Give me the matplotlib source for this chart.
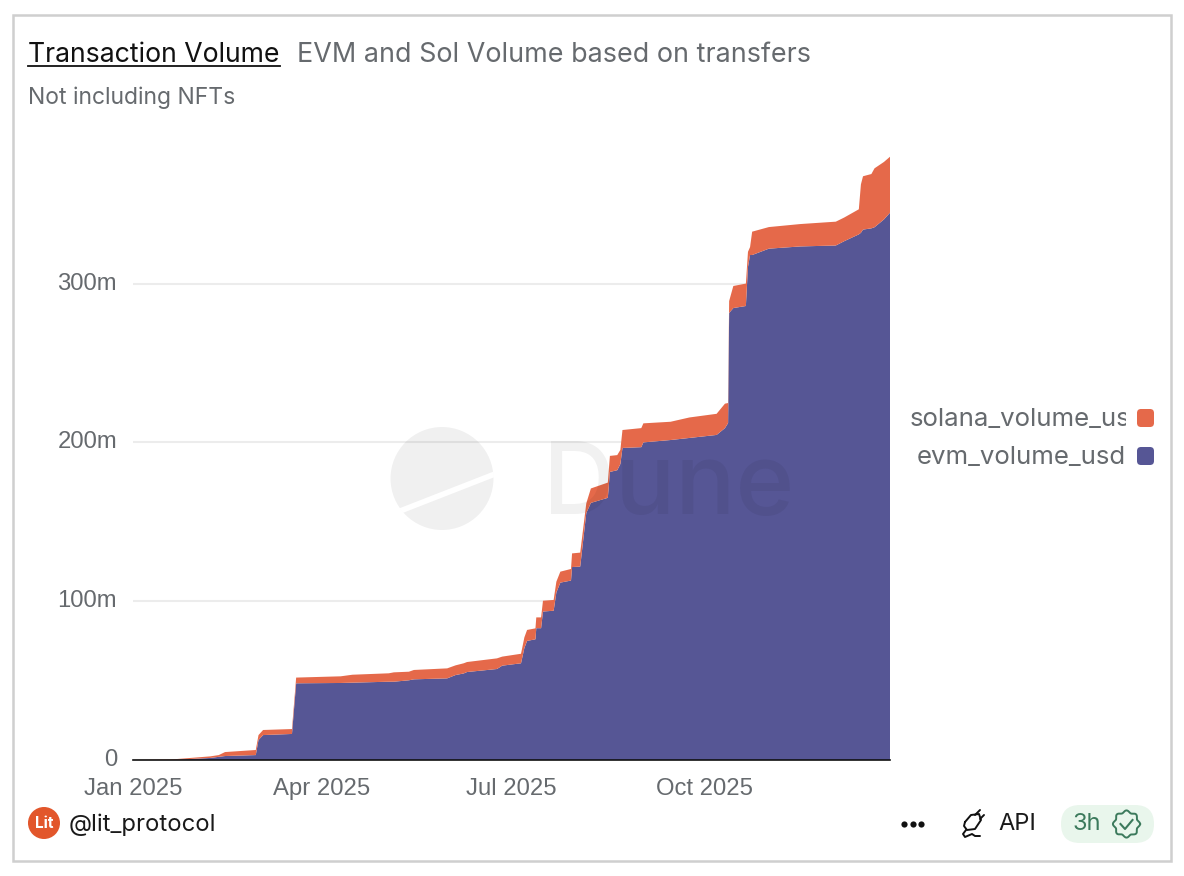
import matplotlib
matplotlib.use("Agg")
import matplotlib.pyplot as plt
from matplotlib.patches import Circle, FancyBboxPatch, Rectangle
import numpy as np
import pandas as pd

W, H = 1184, 876

# days since 1 Jan 2025
days = [0, 18, 37, 41, 44, 58.7, 60, 62.2, 76, 78, 99.3, 104.9, 122.3, 124.7, 131.9, 134.3,
        150.2, 154.2, 158.1, 159.7, 174, 176.5, 185.5,
        187.1, 188.4, 192.4, 192.8, 195.1, 196, 201.1, 202.4, 204.3, 209.4, 209.9, 213.8,
        216.7, 218.9, 227, 228, 231.5, 233, 234, 243,
        244, 257, 266, 279, 283, 284.5, 285, 287, 293, 294, 295, 296, 304, 319, 336, 340,
        347, 348, 349, 353, 354.5, 359, 362]
evm_volume = [0, 0, 1.3, 2, 2.5, 3.1, 12.6, 15.7, 16.4, 48.3, 48.5, 48.7, 49.3, 49.3, 50.2, 50.8,
              51.4, 53.5, 54.5, 55.4, 57.3, 59.4, 60.9,
              70.5, 75, 76, 83, 83, 93.5, 94, 105.5, 111.7, 113, 121.5, 121.8,
              155.5, 161.9, 165.1, 181.4, 182.5, 186.4, 196.5, 197,
              200, 201.5, 202.8, 204.7, 209, 212.2, 281.5, 284.6, 285.9, 310.5, 318, 318, 322,
              323.4, 324, 326.7, 331, 332, 334, 334.8, 335.5, 340.4, 344.8]
solana_volume = [0, 0.3, 1, 1.1, 2.5, 3.2, 3.1, 3.2, 3.1, 3.6, 4.2, 5, 5.3, 5.9, 5.4, 5.9,
                 6.3, 6.1, 6.4, 6.3, 6.7, 5.7, 6,
                 6.7, 6.9, 6.9, 6.8, 6.8, 6.8, 6.8, 6.8, 6.9, 7.3, 8.6, 8.8,
                 6.1, 9.1, 9.6, 10.1, 9.5, 8.9, 11.3, 12,
                 12, 11.5, 12.9, 13.3, 15.4, 12.6, 7.5, 13.9, 14.1, 9.5, 5, 14.7, 13.6,
                 14.1, 15, 14.9, 15.8, 30.5, 33.6, 34.2, 37.1, 36.2, 35.2]
y_ticks = [0, 100, 200, 300]
y_labels = ["0", "100m", "200m", "300m"]
x_ticks = ["2025-01-01", "2025-04-01", "2025-07-01", "2025-10-01"]
x_labels = ["Jan 2025", "Apr 2025", "Jul 2025", "Oct 2025"]

ORANGE = "#e5694a"
INDIGO = "#565695"
GREY = "#666a6e"
GREEN = "#3c7a5c"

start = pd.Timestamp("2025-01-01")
dates = start + pd.to_timedelta(days, unit="D")

plt.rcParams["font.family"] = ["Liberation Sans", "DejaVu Sans"]
fig = plt.figure(figsize=(W / 100, H / 100), dpi=100, facecolor="white")

# plot area runs 133..890 px across, baseline at y=760
ax = fig.add_axes([133 / W, 1 - 760 / H, 757 / W, 630 / H])
ax.stackplot(dates, evm_volume, solana_volume, colors=[INDIGO, ORANGE], linewidth=0)
ax.set_xlim(start + pd.Timedelta(hours=12), start + pd.Timedelta(days=361.9))
ax.set_ylim(0, 630 / 1.588)
ax.set_yticks(y_ticks)
ax.set_yticklabels(y_labels, fontsize=17.2, color=GREY, va="center")
ax.set_xticks(pd.to_datetime(x_ticks))
ax.set_xticklabels(x_labels, fontsize=17.2, color=GREY)
ax.tick_params(axis="both", length=0)
ax.tick_params(axis="y", pad=11.5)
ax.tick_params(axis="x", pad=13)
ax.grid(axis="y", color="#ececec", linewidth=1.5)
ax.set_axisbelow(True)
for s in ["top", "right", "left"]:
    ax.spines[s].set_visible(False)
ax.spines["bottom"].set_color("#111111")
ax.spines["bottom"].set_linewidth(1.2)

# overlay in pixel coordinates for the card, title, legend, footer
ov = fig.add_axes([0, 0, 1, 1], facecolor="none")
ov.set_xlim(0, W)
ov.set_ylim(H, 0)
ov.axis("off")

ov.add_patch(Rectangle((12.5, 15), 1158, 846, fill=False, edgecolor="#cfcfcf", linewidth=1.8))

ov.text(28, 54.5, "Transaction Volume", family="Inter", fontsize=19.2, color="#111111", va="center")
ov.plot([28, 280], [66, 66], color="#111111", linewidth=1.3)
ov.text(297, 54.5, "EVM and Sol Volume based on transfers", family="Inter", fontsize=19.4,
        color=GREY, va="center")
ov.text(28, 97.5, "Not including NFTs", family="Inter", fontsize=16.5, color=GREY, va="center")

# watermark
logo = Circle((442, 478.5), 51.5, facecolor="black", alpha=0.06, edgecolor="none")
ov.add_patch(logo)
clip = Circle((442, 478.5), 52, transform=ov.transData)
slash, = ov.plot([395, 500], [513, 472], color="white", linewidth=4)
slash.set_clip_path(clip)
ov.text(543, 488, "Dune", family="Inter", fontsize=72, color="black", alpha=0.055,
        va="center", weight="medium")

# legend, the long name is cut off at the box edge
leg1 = ov.text(910, 420, "solana_volume_usd", family="Inter", fontsize=18.6, color=GREY,
               va="center", clip_on=True)
leg1.set_clip_path(Rectangle((900, 400), 226, 40, transform=ov.transData))
ov.text(1126, 458, "evm_volume_usd", family="Inter", fontsize=18.6, color=GREY, va="center", ha="right")
for yc, col in [(418, ORANGE), (456, INDIGO)]:
    ov.add_patch(FancyBboxPatch((1140, yc - 6), 11, 12, boxstyle="round,pad=3,rounding_size=4",
                                facecolor=col, edgecolor="none"))

# footer left
ov.add_patch(Circle((44, 823), 16, facecolor="#e2562b", edgecolor="none"))
ov.text(44, 823.5, "Lit", family="Inter", fontsize=11, weight="bold", color="white",
        ha="center", va="center")
ov.text(69, 824.5, "@lit_protocol", family="Inter", fontsize=17.2, color="#1a1a1a", va="center")

# footer right
ov.scatter([904, 912.5, 921], [824, 824, 824], s=20, color="#111111", linewidth=0)
pl = dict(color="#111111", linewidth=1.4, solid_capstyle="round")
ov.plot([965, 971, 979, 981, 975, 967, 964, 965], [822, 815, 814, 820, 829, 830, 826, 822], **pl)
ov.plot([975, 980], [815, 810], **pl)
ov.plot([980, 984], [819, 815], **pl)
ov.plot([966, 963, 965, 972, 975, 980], [830, 834, 837, 834, 836, 836], **pl)
ov.text(998.5, 824.5, "API", family="Inter", fontsize=17, color="#1a1a1a", va="center")
ov.add_patch(FancyBboxPatch((1061, 805), 93, 38, boxstyle="round,pad=0,rounding_size=19",
                            facecolor="#e9f6ec", edgecolor="none"))
ov.text(1073, 824.5, "3h", family="Inter", fontsize=17, color=GREEN, va="center")
ang = np.linspace(0, 2 * np.pi, 200)
rad = 12.5 + 1.1 * np.cos(8 * ang)
ov.plot(1126.5 + rad * np.cos(ang), 824 + rad * np.sin(ang), color=GREEN, linewidth=1.4)
ov.plot([1120.5, 1125, 1132.5], [824, 829, 820], color=GREEN, linewidth=1.5)

fig.savefig("out.png", dpi=100, facecolor="white")
